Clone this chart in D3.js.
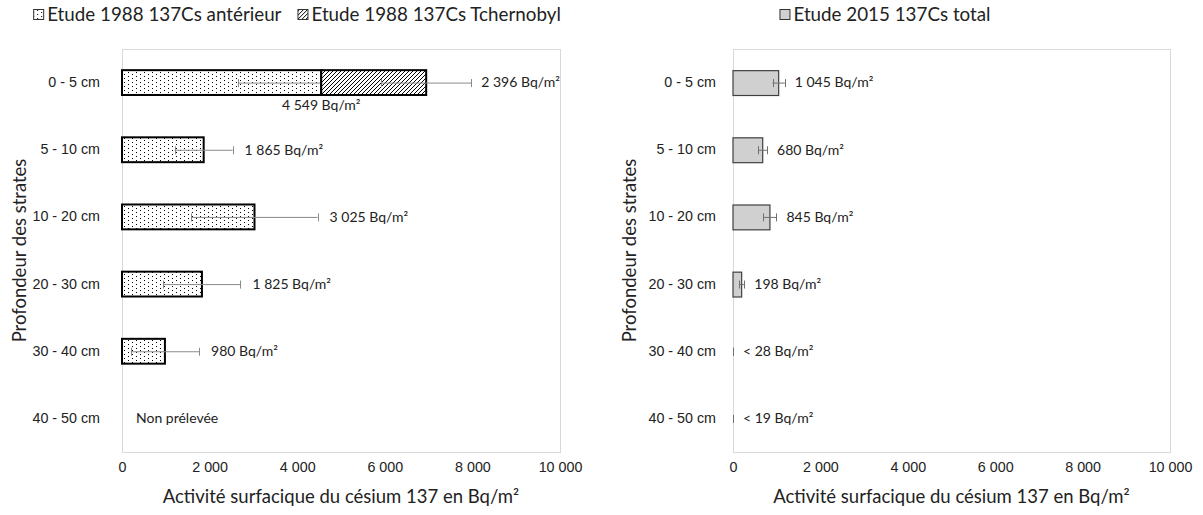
<!DOCTYPE html>
<html>
<head>
<meta charset="utf-8">
<script src="https://cdn.jsdelivr.net/npm/d3@7"></script>
<style>
  body { margin: 0; background: #fff; }
  svg { display: block; font-family: Lato, "Open Sans", sans-serif; }
  text { fill: #222; }
  .axis text { font-size: 14.3px; fill: #222; }
  .axis path, .axis line { display: none; }
  .title { font-size: 18.5px; }
  .legend text { font-size: 18.8px; }
  .value { font-size: 14px; }
</style>
</head>
<body>
<svg id="chart" width="1203" height="515"></svg>
<script>
const svg = d3.select("#chart");

// data
const categories = ["0 - 5 cm", "5 - 10 cm", "10 - 20 cm", "20 - 30 cm", "30 - 40 cm", "40 - 50 cm"];
const ant1988 = [4549, 1865, 3025, 1825, 980, null];
const antErr1988 = [1900, 660, 1440, 880, 780, null];
const tch1988 = [2396, 0, 0, 0, 0, null];
const tchErr1988 = [1030, null, null, null, null, null];
const total2015 = [1045, 680, 845, 198, 0, 0];
const totalErr2015 = [140, 100, 150, 60, 0, 0];
const limit2015 = [null, null, null, null, 28, 19];
const xTicks = [0, 2000, 4000, 6000, 8000, 10000];

const fr = d3.formatLocale({ decimal: ",", thousands: " ", grouping: [3], currency: ["", " €"] });
const fmt = fr.format(",d");
const unit = " Bq/m²";

const defs = svg.append("defs");

const dots = defs.append("pattern")
  .attr("id", "dots")
  .attr("patternUnits", "userSpaceOnUse")
  .attr("width", 8).attr("height", 8);
dots.append("rect").attr("width", 8).attr("height", 8).attr("fill", "#fff");
[[0, 0], [4, 2], [0, 4], [4, 6]].forEach(([px, py]) => {
  dots.append("rect").attr("x", px).attr("y", py).attr("width", 1).attr("height", 1).attr("fill", "#000");
});

const hatch = defs.append("pattern")
  .attr("id", "hatch")
  .attr("patternUnits", "userSpaceOnUse")
  .attr("width", 4).attr("height", 4);
hatch.append("rect").attr("width", 4).attr("height", 4).attr("fill", "#fff");
hatch.append("path")
  .attr("d", "M-1,1 l2,-2 M0,4 l4,-4 M3,5 l2,-2")
  .attr("stroke", "#000")
  .attr("stroke-width", 1);

const plotTop = 49, plotBottom = 452;

function panel(left, right, labelGap, yTitleX) {
  const x = d3.scaleLinear().domain([0, 10000]).range([left, right]);
  const y = d3.scaleBand()
    .domain(categories)
    .range([plotTop, plotBottom])
    .paddingInner(0.63)
    .paddingOuter(0.315);

  svg.append("rect")
    .attr("x", left + 0.5).attr("y", plotTop + 0.5)
    .attr("width", right - left).attr("height", plotBottom - plotTop)
    .attr("fill", "none")
    .attr("stroke", "#d9d9d9");

  svg.append("g")
    .attr("class", "axis")
    .attr("transform", `translate(0, ${plotBottom})`)
    .call(d3.axisBottom(x).tickValues(xTicks).tickSize(0).tickPadding(10).tickFormat(fmt));

  svg.append("g")
    .attr("class", "axis")
    .attr("transform", `translate(${left}, 0)`)
    .call(d3.axisLeft(y).tickSize(0).tickPadding(labelGap));

  svg.append("text")
    .attr("class", "title")
    .attr("x", (left + right) / 2)
    .attr("y", 503)
    .attr("text-anchor", "middle")
    .text("Activité surfacique du césium 137 en Bq/m²");

  svg.append("text")
    .attr("class", "title")
    .attr("transform", `translate(${yTitleX}, ${(plotTop + plotBottom) / 2}) rotate(-90)`)
    .attr("text-anchor", "middle")
    .text("Profondeur des strates");

  return { x, y };
}

function errorBar(x, y, cat, center, err, color) {
  if (err == null) return;
  const cy = y(cat) + y.bandwidth() / 2;
  const g = svg.append("g").attr("stroke", color || "#8a8a8a").attr("stroke-width", 1);
  g.append("line").attr("x1", x(center - err)).attr("x2", x(center + err)).attr("y1", cy + 0.5).attr("y2", cy + 0.5);
  [center - err, center + err].forEach(v => {
    g.append("line").attr("x1", Math.round(x(v)) + 0.5).attr("x2", Math.round(x(v)) + 0.5)
      .attr("y1", cy - 3.5).attr("y2", cy + 4.5);
  });
}

function legend(cx, items) {
  const lg = svg.append("g").attr("class", "legend");
  let pos = 0;
  items.forEach(([fill, label]) => {
    lg.append("rect")
      .attr("x", pos + 0.5).attr("y", 9.5)
      .attr("width", 10).attr("height", 10)
      .attr("fill", fill)
      .attr("stroke", "#333");
    const t = lg.append("text").attr("x", pos + 14).attr("y", 21).text(label);
    pos += 14 + t.node().getComputedTextLength() + 16;
  });
  const w = pos - 16;
  lg.attr("transform", `translate(${cx - w / 2}, 0)`);
}

// left panel: 1988
const L = panel(122, 560, 22, 26);

categories.forEach((c, i) => {
  if (ant1988[i] == null) return;
  svg.append("rect")
    .attr("x", L.x(0)).attr("y", L.y(c))
    .attr("width", L.x(ant1988[i]) - L.x(0)).attr("height", L.y.bandwidth())
    .attr("fill", "url(#dots)")
    .attr("stroke", "#000").attr("stroke-width", 2);
  errorBar(L.x, L.y, c, ant1988[i], antErr1988[i]);
});

categories.forEach((c, i) => {
  if (!tch1988[i]) return;
  svg.append("rect")
    .attr("x", L.x(ant1988[i])).attr("y", L.y(c))
    .attr("width", L.x(ant1988[i] + tch1988[i]) - L.x(ant1988[i])).attr("height", L.y.bandwidth())
    .attr("fill", "url(#hatch)")
    .attr("stroke", "#000").attr("stroke-width", 2);
  errorBar(L.x, L.y, c, ant1988[i] + tch1988[i], tchErr1988[i]);
});

categories.forEach((c, i) => {
  const cy = L.y(c) + L.y.bandwidth() / 2;
  if (ant1988[i] == null) {
    svg.append("text").attr("class", "value")
      .attr("x", L.x(0) + 14).attr("y", cy).attr("dy", "0.35em")
      .text("Non prélevée");
    return;
  }
  if (tch1988[i]) {
    const end = ant1988[i] + tch1988[i];
    svg.append("text").attr("class", "value")
      .attr("x", L.x(end + tchErr1988[i]) + 10).attr("y", cy).attr("dy", "0.35em")
      .text(fmt(tch1988[i]) + unit);
    svg.append("text").attr("class", "value")
      .attr("x", L.x(ant1988[i])).attr("y", L.y(c) + L.y.bandwidth() + 10).attr("dy", "0.35em")
      .attr("text-anchor", "middle")
      .text(fmt(ant1988[i]) + unit);
  } else {
    svg.append("text").attr("class", "value")
      .attr("x", L.x(ant1988[i] + antErr1988[i]) + 12).attr("y", cy).attr("dy", "0.35em")
      .text(fmt(ant1988[i]) + unit);
  }
});

// right panel: 2015
const R = panel(733, 1170, 17, 636);

categories.forEach((c, i) => {
  const cy = R.y(c) + R.y.bandwidth() / 2;
  if (total2015[i] > 0) {
    svg.append("rect")
      .attr("x", R.x(0)).attr("y", R.y(c) + 0.5)
      .attr("width", R.x(total2015[i]) - R.x(0)).attr("height", R.y.bandwidth())
      .attr("fill", "#d0d0d0")
      .attr("stroke", "#404040").attr("stroke-width", 1.2);
  }
  errorBar(R.x, R.y, c, total2015[i], totalErr2015[i], "#707070");
  const label = limit2015[i] != null ? "< " + fmt(limit2015[i]) + unit : fmt(total2015[i]) + unit;
  svg.append("text").attr("class", "value")
    .attr("x", R.x(total2015[i] + totalErr2015[i]) + 10).attr("y", cy).attr("dy", "0.35em")
    .text(label);
});

legend(297, [["url(#dots)", "Etude 1988 137Cs antérieur"], ["url(#hatch)", "Etude 1988 137Cs Tchernobyl"]]);
legend(885, [["#d0d0d0", "Etude 2015 137Cs total"]]);
</script>
</body>
</html>
